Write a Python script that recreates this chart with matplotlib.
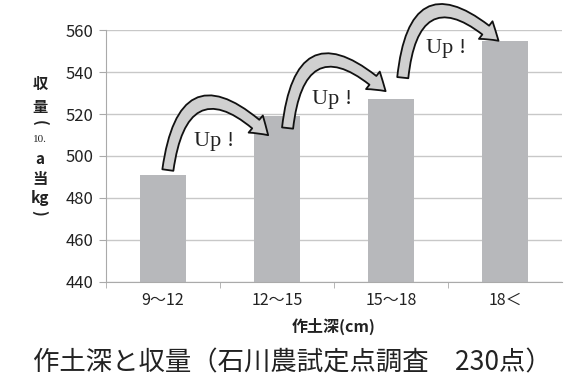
import matplotlib
matplotlib.use("Agg")
import matplotlib.pyplot as plt
from matplotlib.patches import FancyArrowPatch

plt.rcParams['font.family'] = ['Noto Sans CJK JP', 'DejaVu Sans']

categories = ['9～12', '12～15', '15～18', '18＜']
yields = [491, 519, 527, 555]
yticks = [440, 460, 480, 500, 520, 540, 560]

# "Up!" arrows: (start x, start y), (end x, end y), label position
arrow_starts = [(0.04, 492), (1.09, 512), (2.10, 536)]
arrow_ends = [(0.94, 509), (1.97, 530), (2.96, 554)]
label_pos = [(0.45, 507), (1.48, 527), (2.48, 551)]

fig = plt.figure(figsize=(5.85, 3.9), dpi=100)
ax = fig.add_axes([0.181, 0.277, 0.78, 0.646])

x = range(len(categories))
ax.bar(x, yields, width=0.4, color='#b7b8bb', zorder=2)

ax.set_xlim(-0.5, 3.5)
ax.set_ylim(440, 560)
ax.set_yticks(yticks)
ax.set_xticks(list(x))
ax.set_xticklabels(categories, fontsize=11.5, color='#222222')
ax.set_xticks([-0.5, 0.5, 1.5, 2.5], minor=True)
ax.tick_params(axis='x', which='major', length=0, pad=7)
ax.tick_params(axis='x', which='minor', length=4, color='#aaaaaa')
ax.tick_params(axis='y', length=5, color='#aaaaaa', labelsize=12, labelcolor='#222222', pad=4)
ax.yaxis.grid(True, color='#c8c8c8', linewidth=1, zorder=0)
for s in ['top', 'right']:
    ax.spines[s].set_visible(False)
for s in ['left', 'bottom']:
    ax.spines[s].set_color('#aaaaaa')

for (s, e, lp) in zip(arrow_starts, arrow_ends, label_pos):
    arr = FancyArrowPatch(s, e, connectionstyle='arc3,rad=-1.0',
                          arrowstyle='simple,head_width=16,head_length=12,tail_width=8',
                          mutation_scale=1, facecolor='#d0d0d0', edgecolor='#111111',
                          linewidth=1.3, zorder=5, clip_on=False)
    ax.add_patch(arr)
    ax.text(lp[0], lp[1], 'Up !', family='Liberation Serif', fontsize=16,
            ha='center', va='center', color='#222222', zorder=6)

# vertical y label
ylabel_parts = ['収', '量', '(', '10.', 'a', '当', 'kg', ')']
ylabel_px = [84, 107, 123, 139, 159, 179, 198, 213]
for ch, py in zip(ylabel_parts, ylabel_px):
    kw = dict(fontsize=11, fontweight='bold')
    if ch == '10.':
        kw = dict(fontsize=8, family='Liberation Serif')
    if ch in '()':
        kw['rotation'] = -90
    fig.text(0.068, 1 - py / 390, ch, ha='center', va='center', color='#222222', **kw)

fig.text(0.57, 0.162, '作土深(cm)', ha='center', va='center', fontsize=11.5,
         fontweight='bold', color='#222222')
fig.text(0.5, 0.07, '作土深と収量（石川農試定点調査　230点）', ha='center', va='center',
         fontsize=19, color='#222222')

fig.savefig('out.png', dpi=100)
